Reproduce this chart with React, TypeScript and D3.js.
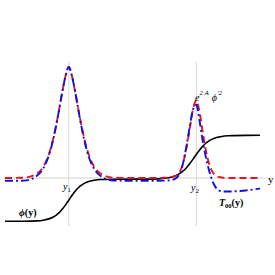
import React from "react";
import * as d3 from "d3";

const xs = [-2.0, -1.7, -1.5, -1.4, -1.3, -1.25, -1.2, -1.15, -1.1, -1.05, -1.0, -0.95, -0.9, -0.85, -0.8, -0.75, -0.7, -0.6, -0.5, -0.3, 0.0, 0.3, 0.5, 0.6, 0.65, 0.7, 0.75, 0.8, 0.85, 0.9, 0.95, 1.0, 1.05, 1.1, 1.15, 1.2, 1.25, 1.3, 1.35, 1.4, 1.5, 1.6, 1.8, 2.0];

const phiValues = [-0.39, -0.389, -0.386, -0.38, -0.366, -0.354, -0.336, -0.312, -0.28, -0.242, -0.2, -0.158, -0.12, -0.088, -0.064, -0.046, -0.034, -0.02, -0.014, -0.011, -0.01, -0.01, -0.0025, 0.0068, 0.015, 0.027, 0.044, 0.066, 0.095, 0.131, 0.17, 0.212, 0.251, 0.285, 0.313, 0.334, 0.35, 0.361, 0.368, 0.374, 0.38, 0.382, 0.384, 0.385];

const energyValues = [0, 0.003, 0.04, 0.1, 0.235, 0.34, 0.47, 0.62, 0.78, 0.92, 1.0, 0.92, 0.78, 0.62, 0.47, 0.34, 0.235, 0.1, 0.04, 0.003, 0, 0, 0.002, 0.006, 0.012, 0.025, 0.065, 0.15, 0.28, 0.45, 0.62, 0.7, 0.6, 0.42, 0.25, 0.13, 0.06, 0.025, 0.01, 0.004, 0, 0, 0, 0];

const t00Values = [-0.025, -0.024, 0.02, 0.085, 0.225, 0.33, 0.465, 0.62, 0.78, 0.92, 1.0, 0.92, 0.78, 0.615, 0.46, 0.325, 0.215, 0.08, 0.018, -0.022, -0.025, -0.025, -0.024, -0.02, -0.012, 0.005, 0.05, 0.15, 0.3, 0.47, 0.62, 0.66, 0.52, 0.34, 0.19, 0.07, -0.02, -0.08, -0.11, -0.12, -0.122, -0.12, -0.11, -0.095];

const markers = [-1, 1];

export default function App() {
  const W = 275, H = 275;
  const x = d3.scaleLinear().domain([-2, 2]).range([5, 260]);
  const y = d3.scaleLinear().domain([0, 1]).range([178, 67]);

  const mk = (vals: number[]) =>
    d3.line<number>()
      .x((_, i) => x(xs[i]))
      .y((v) => y(v))
      .curve(d3.curveMonotoneX)(vals) || "";

  const serif = "'Liberation Serif', 'Times New Roman', serif";

  return (
    <div style={{ position: "fixed", left: 0, top: 0 }}>
      <svg width={W} height={H} style={{ display: "block", background: "#fff" }} fontFamily={serif}>
        {/* axis */}
        <line x1={x(-2)} x2={265} y1={y(0)} y2={y(0)} stroke="#d0d0d0" strokeWidth={1} />
        {markers.map((m) => (
          <line key={m} x1={x(m)} x2={x(m)} y1={y(1.045)} y2={y(-0.432)} stroke="#d8d8d8" strokeWidth={1} />
        ))}
        <path d={mk(phiValues)} fill="none" stroke="#000" strokeWidth={1.6} />
        <path d={mk(energyValues)} fill="none" stroke="#e8141a" strokeWidth={1.9} strokeDasharray="7,4" />
        <path d={mk(t00Values)} fill="none" stroke="#1010e0" strokeWidth={1.9} strokeDasharray="8,3,2,3" />

        {/* labels */}
        <text x={268} y={183} fontSize={11}>y</text>
        <text x={63} y={190} fontSize={10} fontStyle="italic">y<tspan fontSize={7} fontStyle="normal" dy={2}>1</tspan></text>
        <text x={191} y={191} fontSize={10} fontStyle="italic">y<tspan fontSize={7} fontStyle="normal" dy={2}>2</tspan></text>
        <text x={19} y={216} fontSize={10} fontWeight="bold"><tspan fontStyle="italic">ϕ</tspan>(y)</text>
        <text x={219} y={206} fontSize={10} fontWeight="bold"><tspan fontStyle="italic">T</tspan><tspan fontSize={6.5} dy={2}>00</tspan><tspan dy={-2}>(y)</tspan></text>
        <text x={195} y={101} fontSize={10} fontStyle="italic">e<tspan fontSize={7} dy={-6}>2 A</tspan><tspan fontSize={10} dy={6} dx={3}>ϕ</tspan><tspan fontSize={7} dy={-6}>′2</tspan></text>
      </svg>
    </div>
  );
}
